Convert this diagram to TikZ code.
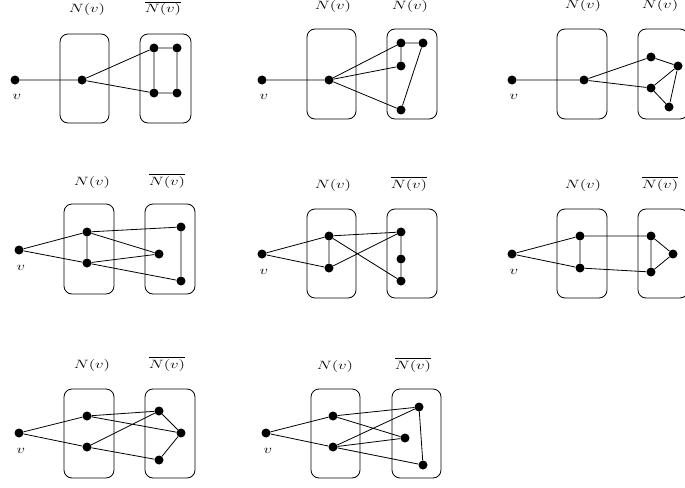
\documentclass[tikz,border=0pt]{standalone}
\usepackage{graphicx}
\begin{document}
\begin{tikzpicture}[x=1pt,y=-1pt,
    vtx/.style={circle,fill,inner sep=0pt,minimum size=9pt},
    grp/.style={draw,rounded corners=8pt,line width=0.8pt},
    lnk/.style={line width=0.8pt},
    lbl/.style={anchor=base,inner sep=0pt,font=\fontsize{13}{15}\selectfont},
    vlbl/.style={inner sep=0pt,font=\fontsize{13}{15}\selectfont}]
    \useasboundingbox (0,0) rectangle (685,487);
    %% Panel 1
    \draw[grp] (60,34) rectangle (109,123);
    \draw[grp] (140,34) rectangle (191,123);
    \node[lbl] (p1n) at (87,13) {\scalebox{1.4}[1]{$N(v)$}};
    \node[lbl] (p1m) at (163,13) {\scalebox{1.4}[1]{$\overline{N(v)}$}};
    \node[vtx] (p1v) at (15,80) {};
    \node[vlbl] (p1vl) at (17,97) {\scalebox{1.4}[1]{$v$}};
    \node[vtx] (p1a) at (82,80) {};
    \node[vtx] (p1b) at (154,48) {};
    \node[vtx] (p1c) at (177,48) {};
    \node[vtx] (p1d) at (154,93) {};
    \node[vtx] (p1e) at (177,93) {};
    \draw[lnk] (p1v) -- (p1a) (p1a) -- (p1b) (p1a) -- (p1d)
        (p1b) -- (p1c) -- (p1e) -- (p1d) -- (p1b);
    %% Panel 2
    \draw[grp] (307,29) rectangle (356,119);
    \draw[grp] (387,29) rectangle (437,119);
    \node[lbl] (p2n) at (333,10) {\scalebox{1.4}[1]{$N(v)$}};
    \node[lbl] (p2m) at (410,10) {\scalebox{1.4}[1]{$\overline{N(v)}$}};
    \node[vtx] (p2v) at (262,80) {};
    \node[vlbl] (p2vl) at (264,97) {\scalebox{1.4}[1]{$v$}};
    \node[vtx] (p2a) at (329,80) {};
    \node[vtx] (p2b) at (401,43) {};
    \node[vtx] (p2c) at (423,43) {};
    \node[vtx] (p2d) at (401,66) {};
    \node[vtx] (p2e) at (401,110) {};
    \draw[lnk] (p2v) -- (p2a) (p2a) -- (p2b) (p2a) -- (p2d) (p2a) -- (p2e)
        (p2d) -- (p2b) -- (p2c) -- (p2e);
    %% Panel 3
    \draw[grp] (557,29) rectangle (607,119);
    \draw[grp] (638,29) rectangle (688,119);
    \node[lbl] (p3n) at (583,9) {\scalebox{1.4}[1]{$N(v)$}};
    \node[lbl] (p3m) at (660,9) {\scalebox{1.4}[1]{$\overline{N(v)}$}};
    \node[vtx] (p3v) at (512,80) {};
    \node[vlbl] (p3vl) at (514,97) {\scalebox{1.4}[1]{$v$}};
    \node[vtx] (p3a) at (584,80) {};
    \node[vtx] (p3b) at (651,57) {};
    \node[vtx] (p3c) at (678,66) {};
    \node[vtx] (p3d) at (651,88) {};
    \node[vtx] (p3e) at (669,107) {};
    \draw[lnk] (p3v) -- (p3a) (p3a) -- (p3b) (p3a) -- (p3d)
        (p3b) -- (p3c) -- (p3d) -- (p3e) -- (p3c);
    %% Panel 4
    \draw[grp] (64,204) rectangle (114,294);
    \draw[grp] (145,204) rectangle (195,294);
    \node[lbl] (p4n) at (92,185) {\scalebox{1.4}[1]{$N(v)$}};
    \node[lbl] (p4m) at (167,185) {\scalebox{1.4}[1]{$\overline{N(v)}$}};
    \node[vtx] (p4v) at (19,250) {};
    \node[vlbl] (p4vl) at (21,268) {\scalebox{1.4}[1]{$v$}};
    \node[vtx] (p4a) at (87,232) {};
    \node[vtx] (p4b) at (87,263) {};
    \node[vtx] (p4c) at (181,227) {};
    \node[vtx] (p4d) at (159,254) {};
    \node[vtx] (p4e) at (181,281) {};
    \draw[lnk] (p4a) -- (p4v) -- (p4b) -- (p4a) (p4a) -- (p4c) (p4a) -- (p4d)
        (p4b) -- (p4d) (p4b) -- (p4e) (p4c) -- (p4e);
    %% Panel 5
    \draw[grp] (307,209) rectangle (356,298);
    \draw[grp] (387,209) rectangle (437,298);
    \node[lbl] (p5n) at (333,188) {\scalebox{1.4}[1]{$N(v)$}};
    \node[lbl] (p5m) at (409,188) {\scalebox{1.4}[1]{$\overline{N(v)}$}};
    \node[vtx] (p5v) at (262,254) {};
    \node[vlbl] (p5vl) at (264,272) {\scalebox{1.4}[1]{$v$}};
    \node[vtx] (p5a) at (329,236) {};
    \node[vtx] (p5b) at (329,268) {};
    \node[vtx] (p5c) at (401,232) {};
    \node[vtx] (p5d) at (401,259) {};
    \node[vtx] (p5e) at (401,281) {};
    \draw[lnk] (p5a) -- (p5v) -- (p5b) -- (p5a) (p5a) -- (p5c) (p5a) -- (p5e)
        (p5b) -- (p5c) (p5c) -- (p5d) -- (p5e);
    %% Panel 6
    \draw[grp] (557,209) rectangle (607,298);
    \draw[grp] (638,209) rectangle (688,298);
    \node[lbl] (p6n) at (583,188) {\scalebox{1.4}[1]{$N(v)$}};
    \node[lbl] (p6m) at (660,188) {\scalebox{1.4}[1]{$\overline{N(v)}$}};
    \node[vtx] (p6v) at (512,254) {};
    \node[vlbl] (p6vl) at (514,272) {\scalebox{1.4}[1]{$v$}};
    \node[vtx] (p6a) at (580,236) {};
    \node[vtx] (p6b) at (580,268) {};
    \node[vtx] (p6c) at (651,236) {};
    \node[vtx] (p6d) at (651,272) {};
    \node[vtx] (p6e) at (673,254) {};
    \draw[lnk] (p6a) -- (p6v) -- (p6b) -- (p6a) (p6a) -- (p6c) (p6b) -- (p6d)
        (p6c) -- (p6d) -- (p6e) -- (p6c);
    %% Panel 7
    \draw[grp] (64,389) rectangle (114,478);
    \draw[grp] (145,389) rectangle (195,478);
    \node[lbl] (p7n) at (92,368) {\scalebox{1.4}[1]{$N(v)$}};
    \node[lbl] (p7m) at (167,368) {\scalebox{1.4}[1]{$\overline{N(v)}$}};
    \node[vtx] (p7v) at (19,433) {};
    \node[vlbl] (p7vl) at (21,451) {\scalebox{1.4}[1]{$v$}};
    \node[vtx] (p7a) at (87,416) {};
    \node[vtx] (p7b) at (87,447) {};
    \node[vtx] (p7c) at (159,411) {};
    \node[vtx] (p7d) at (181,433) {};
    \node[vtx] (p7e) at (159,460) {};
    \draw[lnk] (p7a) -- (p7v) -- (p7b) (p7a) -- (p7c) (p7a) -- (p7d)
        (p7b) -- (p7c) (p7b) -- (p7e) (p7c) -- (p7d) -- (p7e);
    %% Panel 8
    \draw[grp] (311,389) rectangle (360,478);
    \draw[grp] (392,389) rectangle (441,478);
    \node[lbl] (p8n) at (335,369) {\scalebox{1.4}[1]{$N(v)$}};
    \node[lbl] (p8m) at (413,369) {\scalebox{1.4}[1]{$\overline{N(v)}$}};
    \node[vtx] (p8v) at (266,433) {};
    \node[vlbl] (p8vl) at (268,451) {\scalebox{1.4}[1]{$v$}};
    \node[vtx] (p8a) at (333,416) {};
    \node[vtx] (p8b) at (333,447) {};
    \node[vtx] (p8c) at (419,407) {};
    \node[vtx] (p8d) at (405,438) {};
    \node[vtx] (p8e) at (423,465) {};
    \draw[lnk] (p8a) -- (p8v) -- (p8b) (p8a) -- (p8c) (p8a) -- (p8d)
        (p8b) -- (p8c) (p8b) -- (p8d) (p8b) -- (p8e) (p8c) -- (p8e);
\end{tikzpicture}
\end{document}
